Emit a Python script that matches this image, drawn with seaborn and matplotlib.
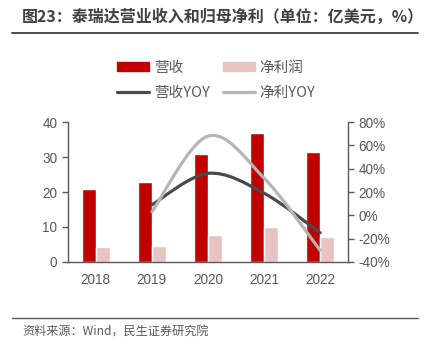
import numpy as np
import pandas as pd
import matplotlib
matplotlib.use('Agg')
import matplotlib.pyplot as plt
import seaborn as sns
from matplotlib.path import Path
from matplotlib.patches import PathPatch, Patch
from matplotlib.lines import Line2D
from matplotlib.ticker import FuncFormatter

#-------------------------------------------------------
years = ['2018', '2019', '2020', '2021', '2022']
revenue = [21.0, 22.9, 31.0, 36.9, 31.4]       # 营收, 亿美元
net_profit = [4.4, 4.6, 7.7, 10.1, 7.1]        # 净利润, 亿美元
revenue_yoy = [np.nan, 0.09, 0.36, 0.19, -0.15]
net_yoy = [np.nan, 0.03, 0.68, 0.32, -0.30]

RED = '#C00000'
PINK = '#E9C2C2'
DARK = '#4A4A4A'
LIGHT = '#B5B5B5'
TXT = '#595959'


#-------------------------------------------------------
def smooth_path(xs, ys):
    # Excel-like smoothed line drawn as cubic bezier through the points
    pts = [(x, y) for x, y in zip(xs, ys) if not np.isnan(y)]
    p = np.array(pts, dtype=float)
    verts = [tuple(p[0])]
    codes = [Path.MOVETO]
    n = len(p)
    for i in range(n - 1):
        p0 = p[i - 1] if i > 0 else p[i]
        p3 = p[i + 2] if i + 2 < n else p[i + 1]
        c1 = p[i] + (p[i + 1] - p0) / 6
        c2 = p[i + 1] - (p3 - p[i]) / 6
        verts += [tuple(c1), tuple(c2), tuple(p[i + 1])]
        codes += [Path.CURVE4] * 3
    return Path(verts, codes)


#-------------------------------------------------------
def main():
    sns.set_style('white')
    plt.rcParams['font.family'] = ['Liberation Sans', 'Noto Sans CJK SC', 'DejaVu Sans']
    cjk = ['Noto Sans CJK SC', 'DejaVu Sans']

    df = pd.DataFrame({
        'year': years * 2,
        'kind': ['营收'] * len(years) + ['净利润'] * len(years),
        'value': revenue + net_profit,
    })

    fig = plt.figure(figsize=(4.24, 3.52), dpi=100)
    ax = fig.add_axes([0.160, 0.256, 0.661, 0.397])
    sns.barplot(data=df, x='year', y='value', hue='kind',
                palette=[RED, PINK], width=0.5, gap=0, legend=False,
                saturation=1, ax=ax)
    ax.set_ylim(0, 40)
    ax.set_yticks([0, 10, 20, 30, 40])
    ax.set_xlim(-0.5, 4.5)
    ax.set_xlabel('')
    ax.set_ylabel('')

    ax2 = ax.twinx()
    ax2.set_ylim(-0.4, 0.8)
    ax2.set_yticks(np.arange(-0.4, 0.81, 0.2))
    ax2.yaxis.set_major_formatter(FuncFormatter(lambda v, _: f'{v * 100:.0f}%'))
    xs = np.arange(len(years))
    ax2.add_patch(PathPatch(smooth_path(xs, revenue_yoy), fill=False,
                            edgecolor=DARK, lw=2.3, capstyle='round'))
    ax2.add_patch(PathPatch(smooth_path(xs, net_yoy), fill=False,
                            edgecolor=LIGHT, lw=2.3, capstyle='round'))

    for a in (ax, ax2):
        for s in a.spines.values():
            s.set_color(TXT)
            s.set_linewidth(1.0)
        a.spines['top'].set_visible(False)
        a.tick_params(colors=TXT, labelsize=9.8, length=4, width=1.0, labelcolor=TXT)
    ax.spines['right'].set_visible(False)
    ax2.spines['left'].set_visible(False)
    ax2.spines['bottom'].set_visible(False)
    ax.set_xticks(np.arange(-0.5, 4.6, 1), minor=True)
    ax.tick_params(axis='x', which='major', length=0, pad=8)
    ax.tick_params(axis='x', which='minor', length=4, width=1.0, color=TXT)

    # column-first filling: col 1 = 营收 / 营收YOY, col 2 = 净利润 / 净利YOY
    handles = [Patch(color=RED), Line2D([], [], color=DARK, lw=2.3),
               Patch(color=PINK), Line2D([], [], color=LIGHT, lw=2.3)]
    labels = ['营收', '营收YOY', '净利润', '净利YOY']
    leg = fig.legend(handles, labels, ncol=2, loc='center',
                     bbox_to_anchor=(0.51, 0.772),
                     frameon=False, prop={'family': cjk, 'size': 10.5},
                     handlelength=2.2, handleheight=0.55, columnspacing=0.9,
                     labelspacing=0.75, handletextpad=0.3)
    for t in leg.get_texts():
        t.set_color(TXT)

    fig.text(0.052, 0.952, '图23：泰瑞达营业收入和归母净利（单位：亿美元，%）',
             family=cjk, fontsize=11.5, fontweight='bold', color='#404040', va='center')
    fig.add_artist(Line2D([0.028, 0.986], [0.906, 0.906], color='#404040', lw=1.3))
    fig.add_artist(Line2D([0.028, 0.986], [0.097, 0.097], color='#595959', lw=1.0))
    fig.text(0.052, 0.057, '资料来源：Wind，民生证券研究院', family=cjk,
             fontsize=8.7, color=TXT, va='center')

    fig.savefig('out.png', dpi=100)


#-------------------------------------------------------
if __name__ == '__main__':
    main()
